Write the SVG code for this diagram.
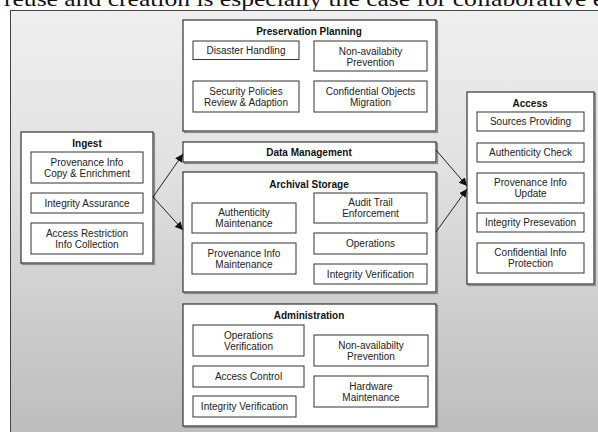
<svg xmlns="http://www.w3.org/2000/svg" width="598" height="432" viewBox="0 0 598 432">
<defs>
<linearGradient id="bg" x1="0" y1="0" x2="0" y2="1">
<stop offset="0" stop-color="#efefef"/>
<stop offset="0.35" stop-color="#e2e2e2"/>
<stop offset="1" stop-color="#bcbcbc"/>
</linearGradient>
<marker id="ah" viewBox="0 0 10 10" refX="10" refY="5" markerWidth="8" markerHeight="8" markerUnits="userSpaceOnUse" orient="auto">
<path d="M0,0 L10,5 L0,10 z" fill="#111"/>
</marker>
<style>
.outer{fill:#fff;stroke:#333;stroke-width:1.2}
.shadow{fill:none;stroke:#8a8a8a;stroke-width:1.2}
.box{fill:#fff;stroke:#333;stroke-width:1}
.t{font-family:"Liberation Sans",Arial,sans-serif;font-size:10px;fill:#222;text-anchor:middle}
.h{font-family:"Liberation Sans",Arial,sans-serif;font-size:10px;font-weight:bold;fill:#111;text-anchor:middle}
.cap{font-family:"Liberation Serif","Times New Roman",serif;font-size:21px;fill:#111}
.conn{stroke:#222;stroke-width:1;fill:none;marker-end:url(#ah)}
</style>
</defs>
<rect x="0" y="0" width="598" height="432" fill="#fff"/>
<text class="cap" x="4" y="6" textLength="600" lengthAdjust="spacingAndGlyphs">reuse and creation is especially the case for collaborative e</text>
<rect x="10.5" y="10.5" width="600" height="430" fill="url(#bg)" stroke="#444" stroke-width="1"/>

<g id="preservation-planning">
<rect class="shadow" x="184.5" y="21.5" width="253" height="111"/>
<rect class="outer" x="183" y="20" width="253" height="111"/>
<text class="h" x="309" y="34.5">Preservation Planning</text>
<rect class="box" x="193" y="41" width="106" height="18.5"/>
<text class="t" x="246" y="53.5">Disaster Handling</text>
<rect class="box" x="314" y="41" width="113" height="30"/>
<text class="t" x="370.5" y="55">Non-availabity</text>
<text class="t" x="370.5" y="66">Prevention</text>
<rect class="box" x="193" y="81" width="106" height="31"/>
<text class="t" x="246" y="95">Security Policies</text>
<text class="t" x="246" y="106">Review &amp; Adaption</text>
<rect class="box" x="314" y="81" width="113" height="31"/>
<text class="t" x="370.5" y="95">Confidential Objects</text>
<text class="t" x="370.5" y="106">Migration</text>
</g>

<g id="data-management">
<rect class="shadow" x="184.5" y="143.5" width="253" height="20"/>
<rect class="outer" x="183" y="142" width="253" height="20"/>
<text class="h" x="309" y="155.5">Data Management</text>
</g>

<g id="archival-storage">
<rect class="shadow" x="184.5" y="173.5" width="253" height="120"/>
<rect class="outer" x="183" y="172" width="253" height="120"/>
<text class="h" x="309" y="187.5">Archival Storage</text>
<rect class="box" x="192" y="203" width="104" height="30"/>
<text class="t" x="244" y="216">Authenticity</text>
<text class="t" x="244" y="227">Maintenance</text>
<rect class="box" x="192" y="243" width="104" height="31"/>
<text class="t" x="244" y="256.5">Provenance Info</text>
<text class="t" x="244" y="267.5">Maintenance</text>
<rect class="box" x="314" y="193" width="113" height="30"/>
<text class="t" x="370.5" y="206">Audit Trail</text>
<text class="t" x="370.5" y="217">Enforcement</text>
<rect class="box" x="314" y="233" width="113" height="21"/>
<text class="t" x="370.5" y="247">Operations</text>
<rect class="box" x="314" y="264" width="113" height="20"/>
<text class="t" x="370.5" y="277.5">Integrity Verification</text>
</g>

<g id="administration">
<rect class="shadow" x="184.5" y="305.5" width="253" height="122"/>
<rect class="outer" x="183" y="304" width="253" height="122"/>
<text class="h" x="309" y="318.5">Administration</text>
<rect class="box" x="193" y="325" width="111" height="31"/>
<text class="t" x="248.5" y="338.5">Operations</text>
<text class="t" x="248.5" y="349.5">Verification</text>
<rect class="box" x="193" y="366" width="111" height="21"/>
<text class="t" x="248.5" y="380">Access Control</text>
<rect class="box" x="193" y="396" width="103" height="21"/>
<text class="t" x="244.5" y="410">Integrity Verification</text>
<rect class="box" x="314" y="335" width="114" height="31"/>
<text class="t" x="371" y="348.5">Non-availabilty</text>
<text class="t" x="371" y="359.5">Prevention</text>
<rect class="box" x="314" y="376" width="114" height="31"/>
<text class="t" x="371" y="389.5">Hardware</text>
<text class="t" x="371" y="400.5">Maintenance</text>
</g>

<g id="ingest">
<rect class="shadow" x="22.5" y="133.5" width="132" height="131"/>
<rect class="outer" x="21" y="132" width="132" height="131"/>
<text class="h" x="87" y="146.5">Ingest</text>
<rect class="box" x="31" y="152" width="112" height="31"/>
<text class="t" x="87" y="165.5">Provenance Info</text>
<text class="t" x="87" y="176.5">Copy &amp; Enrichment</text>
<rect class="box" x="31" y="193" width="112" height="20"/>
<text class="t" x="87" y="206.5">Integrity Assurance</text>
<rect class="box" x="31" y="223" width="112" height="31"/>
<text class="t" x="87" y="236.5">Access Restriction</text>
<text class="t" x="87" y="247.5">Info Collection</text>
</g>

<g id="access">
<rect class="shadow" x="468.5" y="93.5" width="127" height="192"/>
<rect class="outer" x="467" y="92" width="127" height="192"/>
<text class="h" x="530" y="106.5">Access</text>
<rect class="box" x="477" y="112" width="107" height="19"/>
<text class="t" x="530.5" y="125">Sources Providing</text>
<rect class="box" x="477" y="143" width="107" height="19"/>
<text class="t" x="530.5" y="156">Authenticity Check</text>
<rect class="box" x="477" y="173" width="107" height="30"/>
<text class="t" x="530.5" y="186">Provenance Info</text>
<text class="t" x="530.5" y="197">Update</text>
<rect class="box" x="477" y="213" width="107" height="19"/>
<text class="t" x="530.5" y="226">Integrity Presevation</text>
<rect class="box" x="477" y="243" width="107" height="30"/>
<text class="t" x="530.5" y="256">Confidential Info</text>
<text class="t" x="530.5" y="267">Protection</text>
</g>

<g id="connectors">
<line class="conn" x1="153" y1="197" x2="183" y2="154"/>
<line class="conn" x1="153" y1="197" x2="183" y2="230"/>
<line class="conn" x1="436" y1="150" x2="467" y2="186"/>
<line class="conn" x1="436" y1="232" x2="467" y2="189"/>
</g>
</svg>
